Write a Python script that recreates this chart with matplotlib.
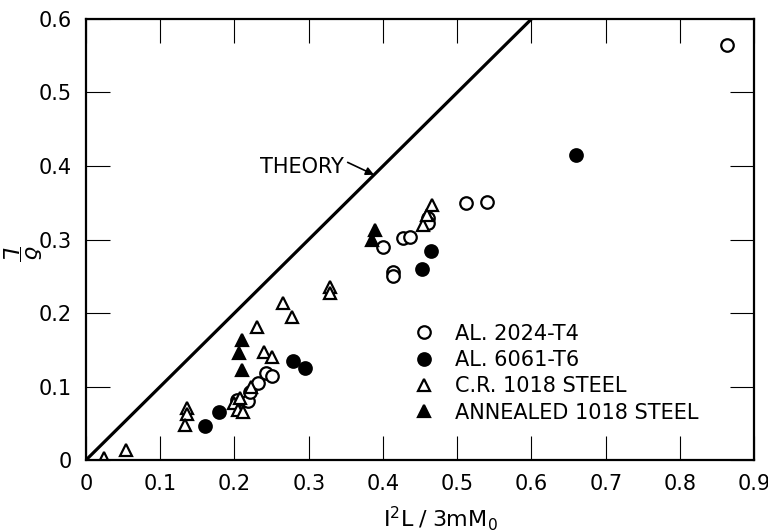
import matplotlib
matplotlib.use("Agg")
import matplotlib.pyplot as plt
from matplotlib.ticker import FuncFormatter

# measured points, x = I^2 L / 3 m M0, y = delta / L
al2024_x = [0.203, 0.218, 0.221, 0.231, 0.243, 0.251, 0.400, 0.414, 0.414,
            0.427, 0.437, 0.461, 0.461, 0.512, 0.540, 0.864]
al2024_y = [0.082, 0.080, 0.093, 0.105, 0.118, 0.114, 0.290, 0.256, 0.251,
            0.302, 0.303, 0.329, 0.322, 0.350, 0.351, 0.565]

al6061_x = [0.160, 0.179, 0.279, 0.295, 0.453, 0.465, 0.660]
al6061_y = [0.046, 0.065, 0.135, 0.125, 0.260, 0.284, 0.415]

cr1018_x = [0.024, 0.054, 0.136, 0.136, 0.133, 0.200, 0.205, 0.212, 0.208,
            0.222, 0.230, 0.240, 0.250, 0.265, 0.277, 0.329, 0.329, 0.454,
            0.459, 0.466]
cr1018_y = [0.003, 0.014, 0.071, 0.063, 0.047, 0.077, 0.068, 0.065, 0.085,
            0.100, 0.181, 0.147, 0.140, 0.213, 0.195, 0.235, 0.227, 0.320,
            0.333, 0.347]

ann1018_x = [0.210, 0.206, 0.210, 0.389, 0.385]
ann1018_y = [0.163, 0.146, 0.122, 0.313, 0.299]

theory_x = [0.0, 0.6]
theory_y = [0.0, 0.6]

labels = ["AL. 2024-T4", "AL. 6061-T6", "C.R. 1018 STEEL", "ANNEALED 1018 STEEL"]

FS = 15
plt.rcParams["font.family"] = "DejaVu Sans"

fig = plt.figure(figsize=(7.68, 5.32), dpi=100)
ax = fig.add_axes([0.112, 0.1353, 0.870, 0.8290])

ax.plot(theory_x, theory_y, color="black", linewidth=2.3, solid_capstyle="butt")

mk = dict(linestyle="none", markersize=9, markeredgewidth=1.6, markeredgecolor="black")
ax.plot(al2024_x, al2024_y, marker="o", markerfacecolor="white", label=labels[0], **mk)
ax.plot(al6061_x, al6061_y, marker="o", markerfacecolor="black", label=labels[1], **mk)
ax.plot(cr1018_x, cr1018_y, marker="^", markerfacecolor="white", label=labels[2], **mk)
ax.plot(ann1018_x, ann1018_y, marker="^", markerfacecolor="black", label=labels[3], **mk)

# label for the theoretical line, arrow runs down to it from the end of the word
ax.annotate("THEORY", xy=(0.388, 0.388), xytext=(0.347, 0.398),
            ha="right", va="center", fontsize=FS,
            arrowprops=dict(arrowstyle="-|>", color="black", lw=1.2,
                            relpos=(1.0, 0.85), shrinkA=1, shrinkB=0,
                            mutation_scale=12))

ax.set_xlim(0, 0.9)
ax.set_ylim(0, 0.6)
ax.set_xticks([i / 10 for i in range(10)])
ax.set_yticks([i / 10 for i in range(7)])
fmt = FuncFormatter(lambda v, p: "0" if abs(v) < 1e-9 else f"{v:.1f}")
ax.xaxis.set_major_formatter(fmt)
ax.yaxis.set_major_formatter(fmt)
ax.tick_params(direction="in", length=17, width=0.8, top=True, right=True,
               labelsize=FS, pad=10)
for s in ax.spines.values():
    s.set_linewidth(1.6)

ax.set_xlabel(r"$\mathrm{I^2L\;/\;3mM_0}$", fontsize=FS + 1)
ax.xaxis.set_label_coords(0.53, -0.1)
ax.set_ylabel(r"$\dfrac{\delta}{L}$", fontsize=FS + 1, rotation=270,
              ha="center", va="center")
ax.yaxis.set_label_coords(-0.098, 0.47)

ax.legend(loc="lower left", bbox_to_anchor=(0.49, 0.085), frameon=False,
          fontsize=FS, handlelength=1.0, handletextpad=1.0, labelspacing=0.3,
          borderpad=0, borderaxespad=0, numpoints=1)

fig.savefig("out.png", dpi=100)
